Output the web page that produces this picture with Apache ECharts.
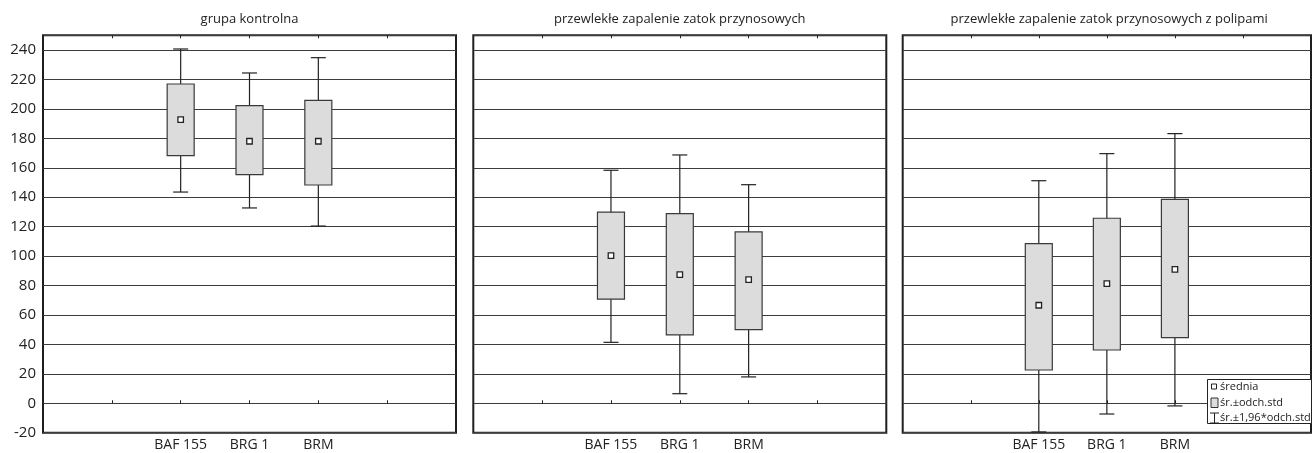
<!DOCTYPE html>
<html>
<head>
<meta charset="utf-8">
<script src="https://cdn.jsdelivr.net/npm/echarts@6/dist/echarts.min.js"></script>
<style>
html,body{margin:0;padding:0;background:#fff;}
#chart{width:1314px;height:453px;}
</style>
</head>
<body>
<div id="chart"></div>
<script>
// ---- data ----
const categories = ['', '', 'BAF 155', 'BRG 1', 'BRM', '', ''];
const markers = ['BAF 155', 'BRG 1', 'BRM'];
const panelTitles = ['grupa kontrolna', 'przewlekłe zapalenie zatok przynosowych', 'przewlekłe zapalenie zatok przynosowych z polipami'];
const meanValues = [[192.7, 178.0, 178.0], [100.3, 87.4, 84.0], [66.6, 81.3, 91.0]];
const sdLow  = [[168.2, 155.3, 148.3], [70.7, 46.4, 50.0], [22.6, 36.2, 44.6]];
const sdHigh = [[216.9, 202.2, 205.8], [129.8, 128.8, 116.4], [108.4, 125.7, 138.5]];
const ciLow  = [[143.5, 132.7, 120.4], [41.4, 6.5, 17.9], [-19.5, -7.3, -1.8]];
const ciHigh = [[240.7, 224.4, 234.8], [158.3, 168.7, 148.5], [151.2, 169.6, 183.2]];
const yMin = -20, yMax = 250, yStep = 20;
const legendNames = ['średnia', 'śr.±odch.std', 'śr.±1,96*odch.std'];

// ---- layout ----
const FONT = 'Open Sans';
const panelLeft = [43, 473.3, 902.7];
const panelWidth = 413;
const panelTop = 35.3;
const panelHeight = 397.4;
const boxHalf = 13.5, capHalf = 7.5;

function renderBox(params, api) {
  const x = api.value(0);
  const lo = api.coord([x, api.value(1)]);
  const hi = api.coord([x, api.value(2)]);
  return {
    type: 'rect',
    shape: { x: lo[0] - boxHalf, y: hi[1], width: boxHalf * 2, height: lo[1] - hi[1] },
    style: { fill: '#dcdcdc', stroke: '#3a3a3a', lineWidth: 1.2 }
  };
}
function renderWhisker(params, api) {
  const x = api.value(0);
  const lo = api.coord([x, api.value(1)]);
  const hi = api.coord([x, api.value(2)]);
  const st = { stroke: '#222', lineWidth: 1.2 };
  return {
    type: 'group',
    children: [
      { type: 'line', shape: { x1: lo[0], y1: lo[1], x2: hi[0], y2: hi[1] }, style: st },
      { type: 'line', shape: { x1: lo[0] - capHalf, y1: lo[1], x2: lo[0] + capHalf, y2: lo[1] }, style: st },
      { type: 'line', shape: { x1: hi[0] - capHalf, y1: hi[1], x2: hi[0] + capHalf, y2: hi[1] }, style: st }
    ]
  };
}

const grids = [], xAxes = [], yAxes = [], series = [], titles = [];
for (let p = 0; p < 3; p++) {
  grids.push({ left: panelLeft[p], top: panelTop, width: panelWidth, height: panelHeight,
    show: true, borderColor: '#1e1e1e', borderWidth: 2, backgroundColor: 'transparent', containLabel: false });
  titles.push({ text: panelTitles[p], left: panelLeft[p] + panelWidth / 2, top: 13, textAlign: 'center', padding: 0,
    textStyle: { fontFamily: FONT, fontSize: 13, fontWeight: 'normal', color: '#222' } });
  xAxes.push({ type: 'category', gridIndex: p, data: categories, boundaryGap: false, position: 'bottom',
    axisLine: { show: false },
    axisTick: { show: true, inside: true, length: 3, interval: 0, lineStyle: { color: '#222' } },
    axisLabel: { interval: 0, fontFamily: FONT, fontSize: 14, color: '#222', margin: 5 },
    splitLine: { show: false } });
  xAxes.push({ type: 'category', gridIndex: p, data: categories, boundaryGap: false, position: 'top',
    axisLine: { show: false },
    axisTick: { show: true, inside: true, length: 3, interval: 0, lineStyle: { color: '#222' } },
    axisLabel: { show: false }, splitLine: { show: false } });
  yAxes.push({ type: 'value', gridIndex: p, min: yMin, max: yMax, interval: yStep,
    axisLine: { show: false }, axisTick: { show: false },
    axisLabel: { show: p === 0, fontFamily: FONT, fontSize: 15, color: '#222', margin: 7,
      formatter: v => (v === yMax ? '' : String(v)) },
    splitLine: { show: true, lineStyle: { color: '#3c3c3c', width: 1 } } });

  series.push({ type: 'custom', name: legendNames[2], xAxisIndex: p * 2, yAxisIndex: p, renderItem: renderWhisker,
    data: markers.map((m, i) => [m, ciLow[p][i], ciHigh[p][i]]), z: 2, silent: true });
  series.push({ type: 'custom', name: legendNames[1], xAxisIndex: p * 2, yAxisIndex: p, renderItem: renderBox,
    data: markers.map((m, i) => [m, sdLow[p][i], sdHigh[p][i]]), z: 3, silent: true });
  series.push({ type: 'scatter', name: legendNames[0], xAxisIndex: p * 2, yAxisIndex: p, symbol: 'rect', symbolSize: 5.5,
    itemStyle: { color: '#fff', borderColor: '#222', borderWidth: 1.3, opacity: 1 },
    data: markers.map((m, i) => [m, meanValues[p][i]]), z: 4, silent: true });
}

// legend box drawn as graphic elements (real text)
const lg = { x: 1207.5, y: 379.5 };
const tStyle = { fontFamily: FONT, fontSize: 11, fill: '#222', verticalAlign: 'middle' };
const legendGraphic = [
  { type: 'rect', z: 100, shape: { x: lg.x, y: lg.y, width: 104, height: 44 }, style: { fill: '#fff', stroke: '#222', lineWidth: 1 } },
  { type: 'rect', z: 101, shape: { x: lg.x + 4, y: lg.y + 4.5, width: 5, height: 5 }, style: { fill: '#fff', stroke: '#222', lineWidth: 1 } },
  { type: 'text', z: 101, style: Object.assign({ x: lg.x + 12.5, y: lg.y + 7.5, text: legendNames[0] }, tStyle) },
  { type: 'rect', z: 101, shape: { x: lg.x + 3.5, y: lg.y + 18.5, width: 7, height: 9.5 }, style: { fill: '#dcdcdc', stroke: '#333', lineWidth: 1 } },
  { type: 'text', z: 101, style: Object.assign({ x: lg.x + 12.5, y: lg.y + 23.5, text: legendNames[1] }, tStyle) },
  { type: 'line', z: 101, shape: { x1: lg.x + 2.5, y1: lg.y + 33.5, x2: lg.x + 11.5, y2: lg.y + 33.5 }, style: { stroke: '#222', lineWidth: 1 } },
  { type: 'line', z: 101, shape: { x1: lg.x + 7, y1: lg.y + 33.5, x2: lg.x + 7, y2: lg.y + 43.5 }, style: { stroke: '#222', lineWidth: 1 } },
  { type: 'line', z: 101, shape: { x1: lg.x + 2.5, y1: lg.y + 43.5, x2: lg.x + 11.5, y2: lg.y + 43.5 }, style: { stroke: '#222', lineWidth: 1 } },
  { type: 'text', z: 101, style: Object.assign({ x: lg.x + 12.5, y: lg.y + 38.5, text: legendNames[2] }, tStyle) }
];

const chart = echarts.init(document.getElementById('chart'), null, { renderer: 'canvas' });
chart.setOption({
  animation: false,
  backgroundColor: '#fff',
  textStyle: { fontFamily: FONT },
  title: titles,
  grid: grids,
  xAxis: xAxes,
  yAxis: yAxes,
  series: series,
  graphic: legendGraphic
});
</script>
</body>
</html>
